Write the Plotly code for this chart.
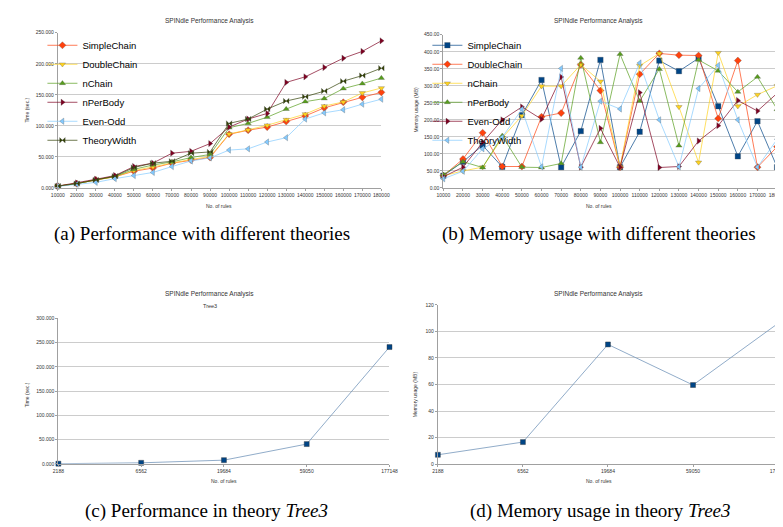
import plotly.graph_objects as go

W, H = 783, 527

# ---------------- data ----------------
rules = [10000, 20000, 30000, 40000, 50000, 60000, 70000, 80000, 90000,
         100000, 110000, 120000, 130000, 140000, 150000, 160000, 170000, 180000]

series_names = ["SimpleChain", "DoubleChain", "nChain", "nPerBody", "Even-Odd", "TheoryWidth"]

# (a) time in seconds
time_simplechain = [3.0, 7.0, 13.0, 18.0, 27.0, 32.0, 40.0, 45.0, 49.0, 86.5, 93.0, 98.0, 107.0, 116.0, 129.0, 138.0, 146.0, 154.0]
time_doublechain = [3.0, 7.0, 13.0, 18.0, 28.0, 34.0, 41.0, 46.0, 50.5, 87.0, 93.5, 101.0, 110.0, 119.0, 132.0, 138.5, 153.0, 161.0]
time_nchain = [3.0, 7.0, 13.0, 18.5, 30.0, 37.0, 42.0, 49.0, 54.0, 97.0, 104.0, 114.0, 127.0, 139.0, 144.0, 160.0, 168.0, 177.0]
time_nperbody = [3.0, 8.0, 14.0, 20.0, 34.5, 40.0, 56.0, 59.0, 71.5, 98.0, 111.0, 120.0, 170.0, 179.0, 194.0, 209.0, 220.0, 237.0]
time_evenodd = [2.5, 6.0, 9.0, 15.0, 20.0, 25.0, 34.5, 43.5, 48.5, 61.0, 63.0, 74.0, 81.0, 111.0, 121.0, 126.0, 135.0, 143.0]
time_theorywidth = [3.0, 7.0, 13.0, 19.0, 33.0, 40.0, 43.0, 56.0, 58.0, 104.0, 111.0, 127.0, 140.0, 147.0, 156.0, 172.0, 181.0, 193.0]

# (b) memory usage in MB
mem_simplechain = [36, 77, 125, 62, 214, 317, 61, 167, 376, 61, 165, 374, 343, 381, 240, 93, 196, 61]
mem_doublechain = [36, 85, 162, 63, 63, 209, 220, 362, 286, 61, 334, 395, 390, 389, 204, 374, 61, 121]
mem_nchain = [36, 50, 61, 147, 212, 299, 299, 362, 313, 61, 359, 395, 238, 75, 397, 240, 274, 300]
mem_nperbody = [39, 77, 60, 153, 61, 60, 72, 382, 134, 393, 255, 349, 124, 376, 344, 282, 326, 231]
mem_evenodd = [33, 61, 134, 200, 238, 202, 326, 61, 175, 61, 280, 60, 63, 138, 183, 257, 226, 278]
mem_theorywidth = [27, 49, 115, 149, 231, 62, 351, 61, 255, 232, 367, 200, 62, 292, 360, 200, 61, 143]

# (c)/(d) theory Tree3
tree3_sizes = ["2188", "6562", "19684", "59050", "177148"]
tree3_time = [0.2, 2.0, 7.5, 40.7, 241.0]
tree3_mem = [7.0, 16.6, 90.2, 59.6, 106.1]

# ---------------- styling ----------------
FONT = "Liberation Sans"
GRID = "#cccccc"
AXIS = "#a0a0a0"
TICKF = dict(family=FONT, size=5, color="#333333")

colors_a = ["#ff420e", "#ffd320", "#579d1c", "#7e0021", "#83caff", "#314004"]
symbols_a = ["diamond", "triangle-down", "triangle-up", "triangle-right", "triangle-left", "bowtie"]
colors_b = ["#004586", "#ff420e", "#ffd320", "#579d1c", "#7e0021", "#83caff"]
symbols_b = ["square", "diamond", "triangle-down", "triangle-up", "triangle-right", "triangle-left"]

def px_x(px):
    return px / W

def px_y(py):
    return 1 - py / H

fig = go.Figure()

time_series = [time_simplechain, time_doublechain, time_nchain, time_nperbody, time_evenodd, time_theorywidth]
mem_series = [mem_simplechain, mem_doublechain, mem_nchain, mem_nperbody, mem_evenodd, mem_theorywidth]

for name, vals, c, s in zip(series_names, time_series, colors_a, symbols_a):
    fig.add_trace(go.Scatter(x=rules, y=vals, name=name, mode="lines+markers",
                             line=dict(color=c, width=0.7),
                             marker=dict(symbol=s, size=5.5, color=c, line=dict(width=0.3, color="#555555")),
                             xaxis="x", yaxis="y", legend="legend", cliponaxis=False))

for name, vals, c, s in zip(series_names, mem_series, colors_b, symbols_b):
    fig.add_trace(go.Scatter(x=rules, y=vals, name=name, mode="lines+markers",
                             line=dict(color=c, width=0.7),
                             marker=dict(symbol=s, size=5.5, color=c, line=dict(width=0.3, color="#555555")),
                             xaxis="x2", yaxis="y2", legend="legend2", cliponaxis=False))

fig.add_trace(go.Scatter(x=list(range(len(tree3_sizes))), y=tree3_time, mode="lines+markers",
                         line=dict(color="#7597bb", width=0.8),
                         marker=dict(symbol="square", size=5, color="#004586", line=dict(width=0.4, color="#333333")),
                         xaxis="x3", yaxis="y3", showlegend=False, cliponaxis=False))
fig.add_trace(go.Scatter(x=list(range(len(tree3_sizes))), y=tree3_mem, mode="lines+markers",
                         line=dict(color="#7597bb", width=0.8),
                         marker=dict(symbol="square", size=5, color="#004586", line=dict(width=0.4, color="#333333")),
                         xaxis="x4", yaxis="y4", showlegend=False, cliponaxis=False))

common_x = dict(showgrid=False, showline=True, linecolor=AXIS, linewidth=1, mirror=False,
                ticks="outside", ticklen=2, tickcolor=AXIS, tickfont=TICKF, zeroline=False)
common_y = dict(showgrid=True, gridcolor=GRID, gridwidth=1, showline=True, linecolor=AXIS,
                linewidth=1, ticks="outside", ticklen=2, tickcolor=AXIS, tickfont=TICKF, zeroline=False)

fig.update_layout(
    width=W, height=H, margin=dict(l=0, r=0, t=0, b=0),
    paper_bgcolor="white", plot_bgcolor="white",
    font=dict(family=FONT),
    xaxis=dict(common_x, domain=[px_x(43.7), px_x(374)], anchor="y", range=[10000, 180000],
               tickvals=rules, tickformat="d"),
    yaxis=dict(common_y, domain=[px_y(179), px_y(22)], anchor="x", range=[0, 250], dtick=50,
               tickformat=".3f"),
    xaxis2=dict(common_x, domain=[px_x(437.3), px_x(778)], anchor="y2", range=[10000, 180000],
                tickvals=rules, tickformat="d"),
    yaxis2=dict(common_y, domain=[px_y(179), px_y(24)], anchor="x2", range=[0, 450], dtick=50,
                tickformat=".2f"),
    xaxis3=dict(common_x, domain=[px_x(44.3), px_x(382.3)], anchor="y3", range=[0, 4],
                tickvals=list(range(len(tree3_sizes))), ticktext=tree3_sizes),
    yaxis3=dict(common_y, domain=[px_y(458), px_y(311)], anchor="x3", range=[0, 300], dtick=50,
                tickformat=".3f"),
    xaxis4=dict(common_x, domain=[px_x(431.7), px_x(779)], anchor="y4", range=[0, 4],
                tickvals=list(range(len(tree3_sizes))), ticktext=tree3_sizes),
    yaxis4=dict(common_y, domain=[px_y(458.3), px_y(297.3)], anchor="x4", range=[0, 120], dtick=20,
                tickformat="d"),
    legend=dict(x=px_x(28), y=px_y(20), xanchor="left", yanchor="top", bgcolor="rgba(0,0,0,0)",
                font=dict(family=FONT, size=9.5, color="#000000"), tracegroupgap=0),
    legend2=dict(x=px_x(421), y=px_y(20), xanchor="left", yanchor="top", bgcolor="rgba(0,0,0,0)",
                 font=dict(family=FONT, size=9.5, color="#000000"), tracegroupgap=0),
)

def ann(text, x, y, size=6.5, color="#333333", angle=0, family=FONT):
    fig.add_annotation(text=text, x=px_x(x), y=px_y(y), xref="paper", yref="paper",
                       showarrow=False, textangle=angle, xanchor="center", yanchor="middle",
                       font=dict(family=family, size=size, color=color))

# chart titles
ann("SPINdle Performance Analysis", 199, 10)
ann("SPINdle Performance Analysis", 596, 10)
ann("SPINdle Performance Analysis", 199, 286)
ann("Tree3", 199, 298, size=5.5)
ann("SPINdle Performance Analysis", 596, 286)

# axis titles
ann("No. of rules", 208, 197, size=5)
ann("No. of rules", 596, 197, size=5)
ann("No. of rules", 213, 475, size=5)
ann("No. of rules", 596, 475, size=5)
ann("Time (sec.)", 12, 100, size=5, angle=-90)
ann("Memory usage (MB)", 409, 100, size=5, angle=-90)
ann("Time (sec.)", 12, 388, size=5, angle=-90)
ann("Memory usage (MB)", 408, 388, size=5, angle=-90)

# captions
SERIF = "Liberation Serif"
ann("(a) Performance with different theories", 191, 226, size=19, color="#000000", family=SERIF)
ann("(b) Memory usage with different theories", 596, 226, size=19, color="#000000", family=SERIF)
ann("(c) Performance in theory <i>Tree3</i>", 196, 506, size=19, color="#000000", family=SERIF)
ann("(d) Memory usage in theory <i>Tree3</i>", 598, 506, size=19, color="#000000", family=SERIF)

fig.write_html("out.html")
